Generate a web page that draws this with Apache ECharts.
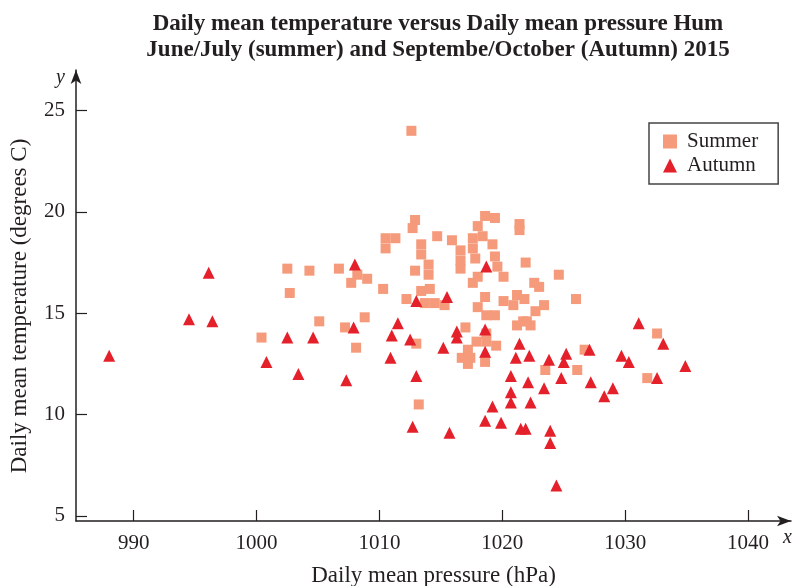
<!DOCTYPE html>
<html>
<head>
<meta charset="utf-8">
<script src="https://cdn.jsdelivr.net/npm/echarts@6/dist/echarts.min.js"></script>
<style>
  html, body { margin: 0; padding: 0; background: #fff; }
  #chart { width: 795px; height: 586px; }
</style>
</head>
<body>
<div id="chart"></div>
<script>
// values
const summerPressure = [1012.6, 1012.9, 1012.7, 1010.5, 1011.3, 1010.5, 1014.7, 1013.4, 1013.4, 1012.9,
  1014.0, 1014.0, 1015.9, 1016.6, 1016.6, 1016.6, 1017.6, 1017.6, 1017.8, 1018.0,
  1018.6, 1019.4, 1018.4, 1019.2, 1019.4, 1019.6, 1020.1, 1018.0, 1017.6, 1021.4,
  1021.4, 1021.9, 1012.2, 1013.4, 1014.1, 1013.7, 1014.5, 1015.3, 1018.0, 1018.6,
  1018.7, 1019.4, 1020.1, 1020.9, 1021.2, 1021.8, 1021.7, 1021.2, 1017.0, 1013.0,
  1017.2, 1016.7, 1017.4, 1017.2, 1017.9, 1018.7, 1018.7, 1019.5, 1018.6, 1022.0,
  1013.2, 1002.5, 1004.3, 1006.7, 1008.2, 1009.0, 1007.7, 1010.3, 1002.7, 1005.1,
  1008.8, 1007.2, 1000.4, 1008.1, 1024.6, 1022.6, 1023.0, 1023.4, 1022.7, 1026.0,
  1022.3, 1032.6, 1026.7, 1023.5, 1026.1, 1031.8]
const summerTemp = [24.0, 19.6, 19.2, 18.7, 18.7, 18.2, 18.8, 18.4, 17.9, 17.1,
  17.4, 16.9, 18.6, 18.1, 17.6, 17.2, 18.7, 18.2, 17.7, 19.3,
  19.8, 19.7, 18.8, 18.4, 17.8, 17.3, 16.8, 16.8, 16.5, 19.4,
  19.1, 17.5, 15.7, 16.1, 16.2, 15.5, 15.5, 15.4, 15.3, 15.8,
  14.9, 14.9, 15.6, 15.4, 15.9, 15.7, 14.6, 14.4, 14.3, 13.5,
  13.2, 12.8, 12.8, 12.5, 13.6, 14.0, 13.6, 13.4, 12.6, 14.6,
  10.5, 17.2, 17.1, 17.2, 16.9, 16.7, 16.5, 16.2, 16.0, 14.6,
  14.8, 14.3, 13.8, 13.3, 16.9, 16.5, 16.3, 15.4, 15.1, 15.7,
  14.4, 14.0, 13.2, 12.2, 12.2, 11.8]

const autumnPressure = [988.0, 994.5, 996.1, 996.4, 1000.8, 1002.5, 1003.4, 1004.6, 1007.3, 1007.9,
  1008.0, 1010.9, 1011.0, 1011.5, 1012.5, 1013.0, 1015.5, 1016.3, 1016.3, 1018.6,
  1018.7, 1015.2, 1018.6, 1013.0, 1021.4, 1021.1, 1022.2, 1020.7, 1022.1, 1020.7,
  1020.7, 1022.3, 1019.2, 1018.6, 1019.9, 1012.7, 1015.7, 1021.5, 1021.9, 1023.8,
  1025.2, 1025.0, 1027.1, 1029.7, 1030.3, 1024.8, 1023.4, 1027.2, 1029.0, 1028.3,
  1032.6, 1031.1, 1033.1, 1034.9, 1023.9, 1023.9, 1024.4]
const autumnTemp = [12.9, 14.7, 17.0, 14.6, 12.6, 13.8, 12.0, 13.8, 11.7, 14.3,
  17.4, 12.8, 13.9, 14.5, 13.7, 15.6, 15.8, 14.1, 13.8, 14.2,
  17.3, 13.3, 13.1, 11.9, 13.5, 12.8, 12.9, 11.9, 11.6, 11.1,
  10.6, 10.6, 10.4, 9.7, 9.6, 9.4, 9.1, 9.3, 9.3, 12.7,
  13.0, 12.6, 13.2, 12.9, 12.6, 11.8, 11.3, 11.6, 11.3, 10.9,
  11.8, 14.5, 13.5, 12.4, 9.2, 8.6, 6.5]

const xTicks = [990, 1000, 1010, 1020, 1030, 1040]
const yTicks = [5, 10, 15, 20, 25]

const serif = '"Liberation Serif", "Times New Roman", serif'
const ink = '#231f20'

const myChart = echarts.init(document.getElementById('chart'))

myChart.setOption({
  backgroundColor: '#fff',
  animation: false,
  title: {
    text: 'Daily mean temperature versus Daily mean pressure Hum\nJune/July (summer) and Septembe/October (Autumn) 2015',
    left: 433,
    top: 6,
    textAlign: 'center',
    textStyle: {
      fontFamily: serif,
      fontWeight: 'bold',
      fontSize: 23,
      lineHeight: 26,
      color: ink
    }
  },
  legend: {
    orient: 'vertical',
    left: 649,
    top: 123,
    borderColor: '#444',
    borderWidth: 1.5,
    padding: [8, 20, 8, 14],
    itemGap: 3,
    itemWidth: 14,
    itemHeight: 14,
    textStyle: {
      fontFamily: serif,
      fontSize: 21,
      lineHeight: 21,
      color: ink,
      padding: [0, 0, 0, 5]
    },
    data: [
      { name: 'Summer', icon: 'rect' },
      { name: 'Autumn', icon: 'triangle' }
    ]
  },
  grid: {
    left: 76,
    right: 4,
    top: 70,
    bottom: 65,
    outerBoundsMode: 'none'
  },
  xAxis: {
    type: 'value',
    min: 985.3,
    max: 1043.5,
    name: 'Daily mean pressure (hPa)',
    nameLocation: 'middle',
    nameGap: 43,
    nameTextStyle: { fontFamily: serif, fontSize: 23, color: ink },
    splitLine: { show: false },
    axisLine: {
      show: true,
      symbol: ['none', 'arrow'],
      symbolSize: [8, 14],
      lineStyle: { color: ink, width: 1.5 }
    },
    axisTick: {
      inside: true,
      length: 11,
      customValues: xTicks,
      lineStyle: { color: ink, width: 1.2 }
    },
    axisLabel: {
      customValues: xTicks,
      margin: 12,
      fontFamily: serif,
      fontSize: 21,
      color: ink,
      formatter: v => String(v)
    }
  },
  yAxis: {
    type: 'value',
    min: 4.75,
    max: 27,
    splitLine: { show: false },
    axisLine: {
      show: true,
      symbol: ['none', 'arrow'],
      symbolSize: [8, 14],
      lineStyle: { color: ink, width: 1.5 }
    },
    axisTick: {
      inside: true,
      length: 11,
      customValues: yTicks,
      lineStyle: { color: ink, width: 1.2 }
    },
    axisLabel: {
      customValues: yTicks,
      margin: 11,
      fontFamily: serif,
      fontSize: 21,
      color: ink
    }
  },
  graphic: [
    {
      // y axis title, a little lower than the axis middle as in the original
      type: 'text',
      x: 20,
      y: 306,
      rotation: Math.PI / 2,
      style: {
        text: 'Daily mean temperature (degrees C)',
        font: '23px ' + serif,
        fill: ink,
        align: 'center',
        verticalAlign: 'middle'
      }
    },
    {
      type: 'text',
      left: 56,
      top: 68,
      style: { text: 'y', font: 'italic 20px ' + serif, fill: ink }
    },
    {
      type: 'text',
      left: 783,
      top: 528,
      style: { text: 'x', font: 'italic 20px ' + serif, fill: ink }
    }
  ],
  series: [
    {
      name: 'Summer',
      type: 'scatter',
      symbol: 'rect',
      symbolSize: 10,
      itemStyle: { color: '#f59a7b', opacity: 1 },
      data: summerPressure.map((p, i) => [p, summerTemp[i]])
    },
    {
      name: 'Autumn',
      type: 'scatter',
      symbol: 'triangle',
      symbolSize: 12,
      itemStyle: { color: '#e4202b', opacity: 1 },
      data: autumnPressure.map((p, i) => [p, autumnTemp[i]])
    }
  ]
})
</script>
</body>
</html>
